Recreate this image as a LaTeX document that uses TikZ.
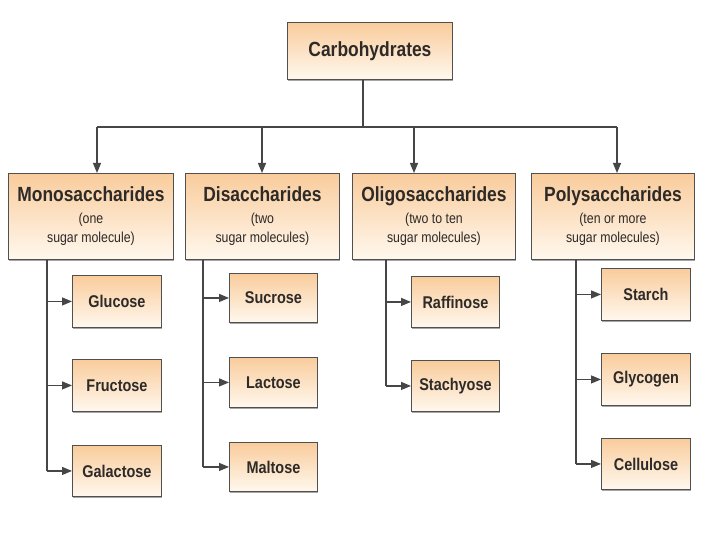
\documentclass[tikz,border=0pt]{standalone}
\usepackage{fontspec}
\setmainfont{Liberation Sans}[FakeStretch=0.85]
\usetikzlibrary{arrows.meta,shadows}
\definecolor{peach}{RGB}{249,204,156}
\definecolor{cream}{RGB}{255,248,238}
\definecolor{edge}{RGB}{80,80,80}
\definecolor{ink}{RGB}{45,42,40}
\definecolor{wire}{RGB}{70,70,70}
\newcommand{\hd}[1]{{\fontsize{20.5}{22}\selectfont\bfseries #1}}
\begin{document}
\begin{tikzpicture}[x=1pt,y=-1pt,
  box/.style={draw=edge,line width=0.9pt,top color=peach,bottom color=cream,
    anchor=north west,inner sep=0pt,align=center,text=ink,
    drop shadow={shadow xshift=1pt,shadow yshift=-1.2pt,opacity=0.35,fill=black}},
  top/.style={box,font=\fontsize{20.5}{24}\selectfont\bfseries},
  cat/.style={box,minimum height=86pt,font=\fontsize{14.5}{19}\selectfont},
  leaf/.style={box,minimum width=89pt,font=\fontsize{17}{20}\selectfont\bfseries},
  wirel/.style={draw=wire,line width=1.2pt},
  arr/.style={wirel,-{Triangle[length=10pt,width=8pt]}}]
\useasboundingbox[fill=white] (0,0) rectangle (720,540);

% root
\node[top,minimum width=165pt,minimum height=57pt] (carb) at (287,22) {Carbohydrates};

% categories
\node[cat,minimum width=165pt] (mono) at (8,173) {\hd{Monosaccharides}\\[3pt](one\\sugar molecule)};
\node[cat,minimum width=154pt] (di) at (185,173) {\hd{Disaccharides}\\[3pt](two\\sugar molecules)};
\node[cat,minimum width=163pt] (oligo) at (352,173) {\hd{Oligosaccharides}\\[3pt](two to ten\\sugar molecules)};
\node[cat,minimum width=163pt] (poly) at (531,173) {\hd{Polysaccharides}\\[3pt](ten or more\\sugar molecules)};

% leaves
\node[leaf,minimum height=52pt] (glucose) at (72,275) {Glucose};
\node[leaf,minimum height=52pt] (fructose) at (72,359) {Fructose};
\node[leaf,minimum height=51pt] (galactose) at (72,445) {Galactose};

\node[leaf,minimum width=88pt,minimum height=49pt] (sucrose) at (229,273) {Sucrose};
\node[leaf,minimum width=88pt,minimum height=50pt] (lactose) at (229,357) {Lactose};
\node[leaf,minimum width=88pt,minimum height=49pt] (maltose) at (229,442) {Maltose};

\node[leaf,minimum width=88pt,minimum height=51pt] (raffinose) at (411,276) {Raffinose};
\node[leaf,minimum width=88pt,minimum height=51pt] (stachyose) at (411,360) {Stachyose};

\node[leaf,minimum height=52pt] (starch) at (601,268) {Starch};
\node[leaf,minimum height=52pt] (glycogen) at (601,353) {Glycogen};
\node[leaf,minimum height=51pt] (cellulose) at (601,438) {Cellulose};

% top-level connectors
\coordinate (hub) at (363,127);
\coordinate (hm) at (97,127);
\coordinate (hdi) at (262,127);
\coordinate (ho) at (414,127);
\coordinate (hp) at (617,127);
\draw[wirel] (hub |- carb.south) -- (hub);
\draw[wirel] (hm) -- (hp);
\draw[arr] (hm) -- (hm |- mono.north);
\draw[arr] (hdi) -- (hdi |- di.north);
\draw[arr] (ho) -- (ho |- oligo.north);
\draw[arr] (hp) -- (hp |- poly.north);

% spines
\coordinate (vm) at (47,0);
\coordinate (vd) at (203,0);
\coordinate (vo) at (386,0);
\coordinate (vp) at (576,0);

\draw[wirel] (vm |- mono.south) -- (vm |- galactose.west);
\foreach \c in {glucose,fructose,galactose}{\draw[arr] (vm |- \c.west) -- (\c.west);}

\draw[wirel] (vd |- di.south) -- (vd |- maltose.west);
\foreach \c in {sucrose,lactose,maltose}{\draw[arr] (vd |- \c.west) -- (\c.west);}

\draw[wirel] (vo |- oligo.south) -- (vo |- stachyose.west);
\foreach \c in {raffinose,stachyose}{\draw[arr] (vo |- \c.west) -- (\c.west);}

\draw[wirel] (vp |- poly.south) -- (vp |- cellulose.west);
\foreach \c in {starch,glycogen,cellulose}{\draw[arr] (vp |- \c.west) -- (\c.west);}
\end{tikzpicture}
\end{document}
